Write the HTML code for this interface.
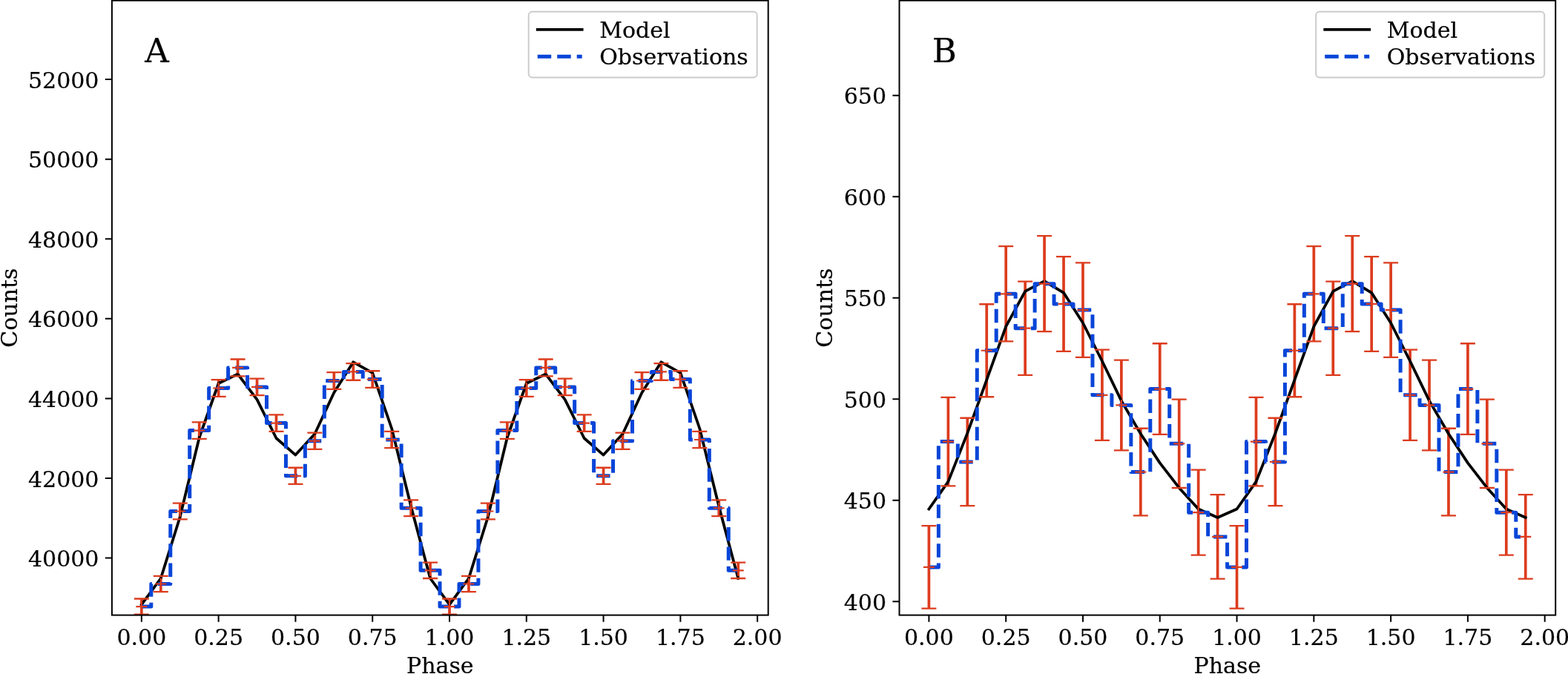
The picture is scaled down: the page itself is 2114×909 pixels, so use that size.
<!DOCTYPE html>
<html lang="en"><head><meta charset="utf-8"><title>Pulse profiles: model and observations</title>
<style>html,body{margin:0;padding:0;background:#fff}body{width:2114px;height:909px;overflow:hidden}svg{display:block}text{font-family:'DejaVu Serif','Liberation Serif',serif;fill:#000;stroke:#000;stroke-width:0.2px;stroke-linejoin:round}</style>
</head><body>
<svg width="2114" height="909" viewBox="0 0 2114 909">
<rect x="0" y="0" width="2114" height="909" fill="#fff"/>
<g id="panel-A">
<clipPath id="clipA"><rect x="150.9" y="0.7" width="884.8" height="828.9"/></clipPath>
<g clip-path="url(#clipA)">
<path d="M190.85 807.51V828.69M216.8 776.83V798.17M242.74 678.59V700.41M268.69 569.42V591.78M294.64 512.18V534.82M320.58 484.52V507.28M346.53 510.58V533.22M372.48 559.4V581.8M398.42 630.77V652.83M424.37 583.55V605.85M450.32 502.16V524.84M476.27 490.03V512.77M502.21 500.26V522.94M528.16 581.85V604.15M554.11 674.32V696.18M580.05 758.58V780.02M606 807.51V828.69M631.95 776.83V798.17M657.89 678.59V700.41M683.84 569.42V591.78M709.79 512.18V534.82M735.73 484.52V507.28M761.68 510.58V533.22M787.63 559.4V581.8M813.57 630.77V652.83M839.52 583.55V605.85M865.47 502.16V524.84M891.42 490.03V512.77M917.36 500.26V522.94M943.31 581.85V604.15M969.26 674.32V696.18M995.2 758.58V780.02" fill="none" stroke="#dc3c1e" stroke-width="3.7"/>
<path d="M190.85 815.4L216.8 780L242.74 697L268.69 590L294.64 517L320.58 504.5L346.53 538.8L372.48 591L398.42 613.6L424.37 585.2L450.32 529.5L476.27 488.3L502.21 502.8L528.16 578L554.11 683L580.05 780L606 815.4L631.95 780L657.89 697L683.84 590L709.79 517L735.73 504.5L761.68 538.8L787.63 591L813.57 613.6L839.52 585.2L865.47 529.5L891.42 488.3L917.36 502.8L943.31 578L969.26 683L995.2 780" fill="none" stroke="#000" stroke-width="3.75" stroke-linejoin="round" stroke-linecap="square"/>
<path d="M190.85 818.1L203.82 818.1L203.82 787.5L229.77 787.5L229.77 689.5L255.72 689.5L255.72 580.6L281.66 580.6L281.66 523.5L307.61 523.5L307.61 495.9L333.56 495.9L333.56 521.9L359.5 521.9L359.5 570.6L385.45 570.6L385.45 641.8L411.4 641.8L411.4 594.7L437.35 594.7L437.35 513.5L463.29 513.5L463.29 501.4L489.24 501.4L489.24 511.6L515.19 511.6L515.19 593L541.13 593L541.13 685.25L567.08 685.25L567.08 769.3L593.03 769.3L593.03 818.1L618.97 818.1L618.97 787.5L644.92 787.5L644.92 689.5L670.87 689.5L670.87 580.6L696.81 580.6L696.81 523.5L722.76 523.5L722.76 495.9L748.71 495.9L748.71 521.9L774.65 521.9L774.65 570.6L800.6 570.6L800.6 641.8L826.55 641.8L826.55 594.7L852.5 594.7L852.5 513.5L878.44 513.5L878.44 501.4L904.39 501.4L904.39 511.6L930.34 511.6L930.34 593L956.28 593L956.28 685.25L982.23 685.25L982.23 769.3L995.2 769.3" fill="none" stroke="#0845d8" stroke-width="5.0" stroke-dasharray="18.435 7.97" stroke-dashoffset="0.2" stroke-linejoin="round" stroke-linecap="butt"/>
<path d="M183.35 818.1H198.35M190.85 810.6V825.6M209.3 787.5H224.3M216.8 780V795M235.24 689.5H250.24M242.74 682V697M261.19 580.6H276.19M268.69 573.1V588.1M287.14 523.5H302.14M294.64 516V531M313.08 495.9H328.08M320.58 488.4V503.4M339.03 521.9H354.03M346.53 514.4V529.4M364.98 570.6H379.98M372.48 563.1V578.1M390.92 641.8H405.92M398.42 634.3V649.3M416.87 594.7H431.87M424.37 587.2V602.2M442.82 513.5H457.82M450.32 506V521M468.77 501.4H483.77M476.27 493.9V508.9M494.71 511.6H509.71M502.21 504.1V519.1M520.66 593H535.66M528.16 585.5V600.5M546.61 685.25H561.61M554.11 677.75V692.75M572.55 769.3H587.55M580.05 761.8V776.8M598.5 818.1H613.5M606 810.6V825.6M624.45 787.5H639.45M631.95 780V795M650.39 689.5H665.39M657.89 682V697M676.34 580.6H691.34M683.84 573.1V588.1M702.29 523.5H717.29M709.79 516V531M728.23 495.9H743.23M735.73 488.4V503.4M754.18 521.9H769.18M761.68 514.4V529.4M780.13 570.6H795.13M787.63 563.1V578.1M806.07 641.8H821.07M813.57 634.3V649.3M832.02 594.7H847.02M839.52 587.2V602.2M857.97 513.5H872.97M865.47 506V521M883.92 501.4H898.92M891.42 493.9V508.9M909.86 511.6H924.86M917.36 504.1V519.1M935.81 593H950.81M943.31 585.5V600.5M961.76 685.25H976.76M969.26 677.75V692.75M987.7 769.3H1002.7M995.2 761.8V776.8" fill="none" stroke="#dc3c1e" stroke-width="2.2"/>
<path d="M180.85 807.51H200.85M180.85 828.69H200.85M206.8 776.83H226.8M206.8 798.17H226.8M232.74 678.59H252.74M232.74 700.41H252.74M258.69 569.42H278.69M258.69 591.78H278.69M284.64 512.18H304.64M284.64 534.82H304.64M310.58 484.52H330.58M310.58 507.28H330.58M336.53 510.58H356.53M336.53 533.22H356.53M362.48 559.4H382.48M362.48 581.8H382.48M388.42 630.77H408.42M388.42 652.83H408.42M414.37 583.55H434.37M414.37 605.85H434.37M440.32 502.16H460.32M440.32 524.84H460.32M466.27 490.03H486.27M466.27 512.77H486.27M492.21 500.26H512.21M492.21 522.94H512.21M518.16 581.85H538.16M518.16 604.15H538.16M544.11 674.32H564.11M544.11 696.18H564.11M570.05 758.58H590.05M570.05 780.02H590.05M596 807.51H616M596 828.69H616M621.95 776.83H641.95M621.95 798.17H641.95M647.89 678.59H667.89M647.89 700.41H667.89M673.84 569.42H693.84M673.84 591.78H693.84M699.79 512.18H719.79M699.79 534.82H719.79M725.73 484.52H745.73M725.73 507.28H745.73M751.68 510.58H771.68M751.68 533.22H771.68M777.63 559.4H797.63M777.63 581.8H797.63M803.57 630.77H823.57M803.57 652.83H823.57M829.52 583.55H849.52M829.52 605.85H849.52M855.47 502.16H875.47M855.47 524.84H875.47M881.42 490.03H901.42M881.42 512.77H901.42M907.36 500.26H927.36M907.36 522.94H927.36M933.31 581.85H953.31M933.31 604.15H953.31M959.26 674.32H979.26M959.26 696.18H979.26M985.2 758.58H1005.2M985.2 780.02H1005.2" fill="none" stroke="#dc3c1e" stroke-width="2.3"/>
</g>
<path d="M190.85 829.6v9.1M294.64 829.6v9.1M398.42 829.6v9.1M502.21 829.6v9.1M606 829.6v9.1M709.79 829.6v9.1M813.57 829.6v9.1M917.36 829.6v9.1M1021.15 829.6v9.1M150.9 752.6h-9.1M150.9 645.02h-9.1M150.9 537.44h-9.1M150.9 429.86h-9.1M150.9 322.28h-9.1M150.9 214.7h-9.1M150.9 107.12h-9.1" fill="none" stroke="#000" stroke-width="2"/>
<rect x="150.9" y="0.7" width="884.8" height="828.9" fill="none" stroke="#000" stroke-width="2" stroke-linejoin="miter"/>
<text x="190.85" y="869.6" font-size="30" text-anchor="middle">0.00</text>
<text x="294.64" y="869.6" font-size="30" text-anchor="middle">0.25</text>
<text x="398.42" y="869.6" font-size="30" text-anchor="middle">0.50</text>
<text x="502.21" y="869.6" font-size="30" text-anchor="middle">0.75</text>
<text x="606" y="869.6" font-size="30" text-anchor="middle">1.00</text>
<text x="709.79" y="869.6" font-size="30" text-anchor="middle">1.25</text>
<text x="813.57" y="869.6" font-size="30" text-anchor="middle">1.50</text>
<text x="917.36" y="869.6" font-size="30" text-anchor="middle">1.75</text>
<text x="1021.15" y="869.6" font-size="30" text-anchor="middle">2.00</text>
<text x="133.4" y="764.1" font-size="30" text-anchor="end">40000</text>
<text x="133.4" y="656.52" font-size="30" text-anchor="end">42000</text>
<text x="133.4" y="548.94" font-size="30" text-anchor="end">44000</text>
<text x="133.4" y="441.36" font-size="30" text-anchor="end">46000</text>
<text x="133.4" y="333.78" font-size="30" text-anchor="end">48000</text>
<text x="133.4" y="226.2" font-size="30" text-anchor="end">50000</text>
<text x="133.4" y="118.62" font-size="30" text-anchor="end">52000</text>
<text x="593.3" y="908.4" font-size="30" text-anchor="middle">Phase</text>
<text transform="translate(23 415.15) rotate(-90)" font-size="30" text-anchor="middle">Counts</text>
<text x="195.14" y="83.8" font-size="45">A</text>
<rect x="712.7" y="15.7" width="308" height="88.9" rx="5" ry="5" fill="#fff" fill-opacity="0.8" stroke="#ccc" stroke-width="2"/>
<path d="M724.7 39.9h60" fill="none" stroke="#000" stroke-width="3.75" stroke-linecap="square"/>
<path d="M724.7 76.3h60" fill="none" stroke="#0845d8" stroke-width="5" stroke-dasharray="18.5 8"/>
<text x="808.2" y="51" font-size="30">Model</text>
<text x="808.2" y="87.4" font-size="30">Observations</text>
</g>
<g id="panel-B">
<clipPath id="clipB"><rect x="1212.5" y="0.7" width="884.7" height="828.9"/></clipPath>
<g clip-path="url(#clipB)">
<path d="M1252.4 709.13V820.64M1278.35 535.84V655.36M1304.29 563.77V682.03M1330.24 410.23V535.23M1356.19 332.13V460.43M1382.13 379.54V505.85M1408.08 318.19V447.07M1434.03 346.07V473.79M1459.98 354.44V481.81M1485.92 471.62V593.97M1511.87 485.58V607.32M1537.82 577.74V695.37M1563.76 463.25V585.97M1589.71 538.63V658.02M1615.66 633.63V748.7M1641.6 667.18V780.68M1667.55 709.13V820.64M1693.5 535.84V655.36M1719.44 563.77V682.03M1745.39 410.23V535.23M1771.34 332.13V460.43M1797.28 379.54V505.85M1823.23 318.19V447.07M1849.18 346.07V473.79M1875.12 354.44V481.81M1901.07 471.62V593.97M1927.02 485.58V607.32M1952.97 577.74V695.37M1978.91 463.25V585.97M2004.86 538.63V658.02M2030.81 633.63V748.7M2056.75 667.18V780.68" fill="none" stroke="#dc3c1e" stroke-width="3.7"/>
<path d="M1252.4 686.5L1278.35 649.6L1304.29 584.1L1330.24 512.3L1356.19 440.3L1382.13 392.8L1408.08 379.2L1434.03 394.8L1459.98 435.5L1485.92 487L1511.87 540.6L1537.82 585L1563.76 624.4L1589.71 657.9L1615.66 686.5L1641.6 698L1667.55 686.5L1693.5 649.6L1719.44 584.1L1745.39 512.3L1771.34 440.3L1797.28 392.8L1823.23 379.2L1849.18 394.8L1875.12 435.5L1901.07 487L1927.02 540.6L1952.97 585L1978.91 624.4L2004.86 657.9L2030.81 686.5L2056.75 698" fill="none" stroke="#000" stroke-width="3.75" stroke-linejoin="round" stroke-linecap="square"/>
<path d="M1252.4 764.88L1265.37 764.88L1265.37 595.6L1291.32 595.6L1291.32 622.9L1317.27 622.9L1317.27 472.73L1343.21 472.73L1343.21 396.28L1369.16 396.28L1369.16 442.7L1395.11 442.7L1395.11 382.63L1421.05 382.63L1421.05 409.93L1447 409.93L1447 418.12L1472.95 418.12L1472.95 532.8L1498.9 532.8L1498.9 546.45L1524.84 546.45L1524.84 636.55L1550.79 636.55L1550.79 524.61L1576.74 524.61L1576.74 598.33L1602.68 598.33L1602.68 691.16L1628.63 691.16L1628.63 723.93L1654.58 723.93L1654.58 764.88L1680.52 764.88L1680.52 595.6L1706.47 595.6L1706.47 622.9L1732.42 622.9L1732.42 472.73L1758.36 472.73L1758.36 396.28L1784.31 396.28L1784.31 442.7L1810.26 442.7L1810.26 382.63L1836.2 382.63L1836.2 409.93L1862.15 409.93L1862.15 418.12L1888.1 418.12L1888.1 532.8L1914.05 532.8L1914.05 546.45L1939.99 546.45L1939.99 636.55L1965.94 636.55L1965.94 524.61L1991.89 524.61L1991.89 598.33L2017.83 598.33L2017.83 691.16L2043.78 691.16L2043.78 723.93L2056.75 723.93" fill="none" stroke="#0845d8" stroke-width="5.0" stroke-dasharray="18.435 7.97" stroke-dashoffset="0.2" stroke-linejoin="round" stroke-linecap="butt"/>
<path d="M1244.9 764.88H1259.9M1252.4 757.38V772.38M1270.85 595.6H1285.85M1278.35 588.1V603.1M1296.79 622.9H1311.79M1304.29 615.4V630.4M1322.74 472.73H1337.74M1330.24 465.23V480.23M1348.69 396.28H1363.69M1356.19 388.78V403.78M1374.63 442.7H1389.63M1382.13 435.2V450.2M1400.58 382.63H1415.58M1408.08 375.13V390.13M1426.53 409.93H1441.53M1434.03 402.43V417.43M1452.48 418.12H1467.48M1459.98 410.62V425.62M1478.42 532.8H1493.42M1485.92 525.3V540.3M1504.37 546.45H1519.37M1511.87 538.95V553.95M1530.32 636.55H1545.32M1537.82 629.05V644.05M1556.26 524.61H1571.26M1563.76 517.11V532.11M1582.21 598.33H1597.21M1589.71 590.83V605.83M1608.16 691.16H1623.16M1615.66 683.66V698.66M1634.1 723.93H1649.1M1641.6 716.43V731.43M1660.05 764.88H1675.05M1667.55 757.38V772.38M1686 595.6H1701M1693.5 588.1V603.1M1711.94 622.9H1726.94M1719.44 615.4V630.4M1737.89 472.73H1752.89M1745.39 465.23V480.23M1763.84 396.28H1778.84M1771.34 388.78V403.78M1789.78 442.7H1804.78M1797.28 435.2V450.2M1815.73 382.63H1830.73M1823.23 375.13V390.13M1841.68 409.93H1856.68M1849.18 402.43V417.43M1867.62 418.12H1882.62M1875.12 410.62V425.62M1893.57 532.8H1908.57M1901.07 525.3V540.3M1919.52 546.45H1934.52M1927.02 538.95V553.95M1945.47 636.55H1960.47M1952.97 629.05V644.05M1971.41 524.61H1986.41M1978.91 517.11V532.11M1997.36 598.33H2012.36M2004.86 590.83V605.83M2023.31 691.16H2038.31M2030.81 683.66V698.66M2049.25 723.93H2064.25M2056.75 716.43V731.43" fill="none" stroke="#dc3c1e" stroke-width="2.2"/>
<path d="M1242.4 709.13H1262.4M1242.4 820.64H1262.4M1268.35 535.84H1288.35M1268.35 655.36H1288.35M1294.29 563.77H1314.29M1294.29 682.03H1314.29M1320.24 410.23H1340.24M1320.24 535.23H1340.24M1346.19 332.13H1366.19M1346.19 460.43H1366.19M1372.13 379.54H1392.13M1372.13 505.85H1392.13M1398.08 318.19H1418.08M1398.08 447.07H1418.08M1424.03 346.07H1444.03M1424.03 473.79H1444.03M1449.98 354.44H1469.98M1449.98 481.81H1469.98M1475.92 471.62H1495.92M1475.92 593.97H1495.92M1501.87 485.58H1521.87M1501.87 607.32H1521.87M1527.82 577.74H1547.82M1527.82 695.37H1547.82M1553.76 463.25H1573.76M1553.76 585.97H1573.76M1579.71 538.63H1599.71M1579.71 658.02H1599.71M1605.66 633.63H1625.66M1605.66 748.7H1625.66M1631.6 667.18H1651.6M1631.6 780.68H1651.6M1657.55 709.13H1677.55M1657.55 820.64H1677.55M1683.5 535.84H1703.5M1683.5 655.36H1703.5M1709.44 563.77H1729.44M1709.44 682.03H1729.44M1735.39 410.23H1755.39M1735.39 535.23H1755.39M1761.34 332.13H1781.34M1761.34 460.43H1781.34M1787.28 379.54H1807.28M1787.28 505.85H1807.28M1813.23 318.19H1833.23M1813.23 447.07H1833.23M1839.18 346.07H1859.18M1839.18 473.79H1859.18M1865.12 354.44H1885.12M1865.12 481.81H1885.12M1891.07 471.62H1911.07M1891.07 593.97H1911.07M1917.02 485.58H1937.02M1917.02 607.32H1937.02M1942.97 577.74H1962.97M1942.97 695.37H1962.97M1968.91 463.25H1988.91M1968.91 585.97H1988.91M1994.86 538.63H2014.86M1994.86 658.02H2014.86M2020.81 633.63H2040.81M2020.81 748.7H2040.81M2046.75 667.18H2066.75M2046.75 780.68H2066.75" fill="none" stroke="#dc3c1e" stroke-width="2.3"/>
</g>
<path d="M1252.4 829.6v9.1M1356.19 829.6v9.1M1459.98 829.6v9.1M1563.76 829.6v9.1M1667.55 829.6v9.1M1771.34 829.6v9.1M1875.12 829.6v9.1M1978.91 829.6v9.1M2082.7 829.6v9.1M1212.5 811.3h-9.1M1212.5 674.78h-9.1M1212.5 538.26h-9.1M1212.5 401.74h-9.1M1212.5 265.22h-9.1M1212.5 128.7h-9.1" fill="none" stroke="#000" stroke-width="2"/>
<rect x="1212.5" y="0.7" width="884.7" height="828.9" fill="none" stroke="#000" stroke-width="2" stroke-linejoin="miter"/>
<text x="1252.4" y="869.6" font-size="30" text-anchor="middle">0.00</text>
<text x="1356.19" y="869.6" font-size="30" text-anchor="middle">0.25</text>
<text x="1459.98" y="869.6" font-size="30" text-anchor="middle">0.50</text>
<text x="1563.76" y="869.6" font-size="30" text-anchor="middle">0.75</text>
<text x="1667.55" y="869.6" font-size="30" text-anchor="middle">1.00</text>
<text x="1771.34" y="869.6" font-size="30" text-anchor="middle">1.25</text>
<text x="1875.12" y="869.6" font-size="30" text-anchor="middle">1.50</text>
<text x="1978.91" y="869.6" font-size="30" text-anchor="middle">1.75</text>
<text x="2082.7" y="869.6" font-size="30" text-anchor="middle">2.00</text>
<text x="1195" y="822.8" font-size="30" text-anchor="end">400</text>
<text x="1195" y="686.28" font-size="30" text-anchor="end">450</text>
<text x="1195" y="549.76" font-size="30" text-anchor="end">500</text>
<text x="1195" y="413.24" font-size="30" text-anchor="end">550</text>
<text x="1195" y="276.72" font-size="30" text-anchor="end">600</text>
<text x="1195" y="140.2" font-size="30" text-anchor="end">650</text>
<text x="1654.85" y="908.4" font-size="30" text-anchor="middle">Phase</text>
<text transform="translate(1122.4 415.15) rotate(-90)" font-size="30" text-anchor="middle">Counts</text>
<text x="1256.73" y="83.8" font-size="45">B</text>
<rect x="1774.2" y="15.7" width="308" height="88.9" rx="5" ry="5" fill="#fff" fill-opacity="0.8" stroke="#ccc" stroke-width="2"/>
<path d="M1786.2 39.9h60" fill="none" stroke="#000" stroke-width="3.75" stroke-linecap="square"/>
<path d="M1786.2 76.3h60" fill="none" stroke="#0845d8" stroke-width="5" stroke-dasharray="18.5 8"/>
<text x="1869.7" y="51" font-size="30">Model</text>
<text x="1869.7" y="87.4" font-size="30">Observations</text>
</g>
</svg>
</body></html>
